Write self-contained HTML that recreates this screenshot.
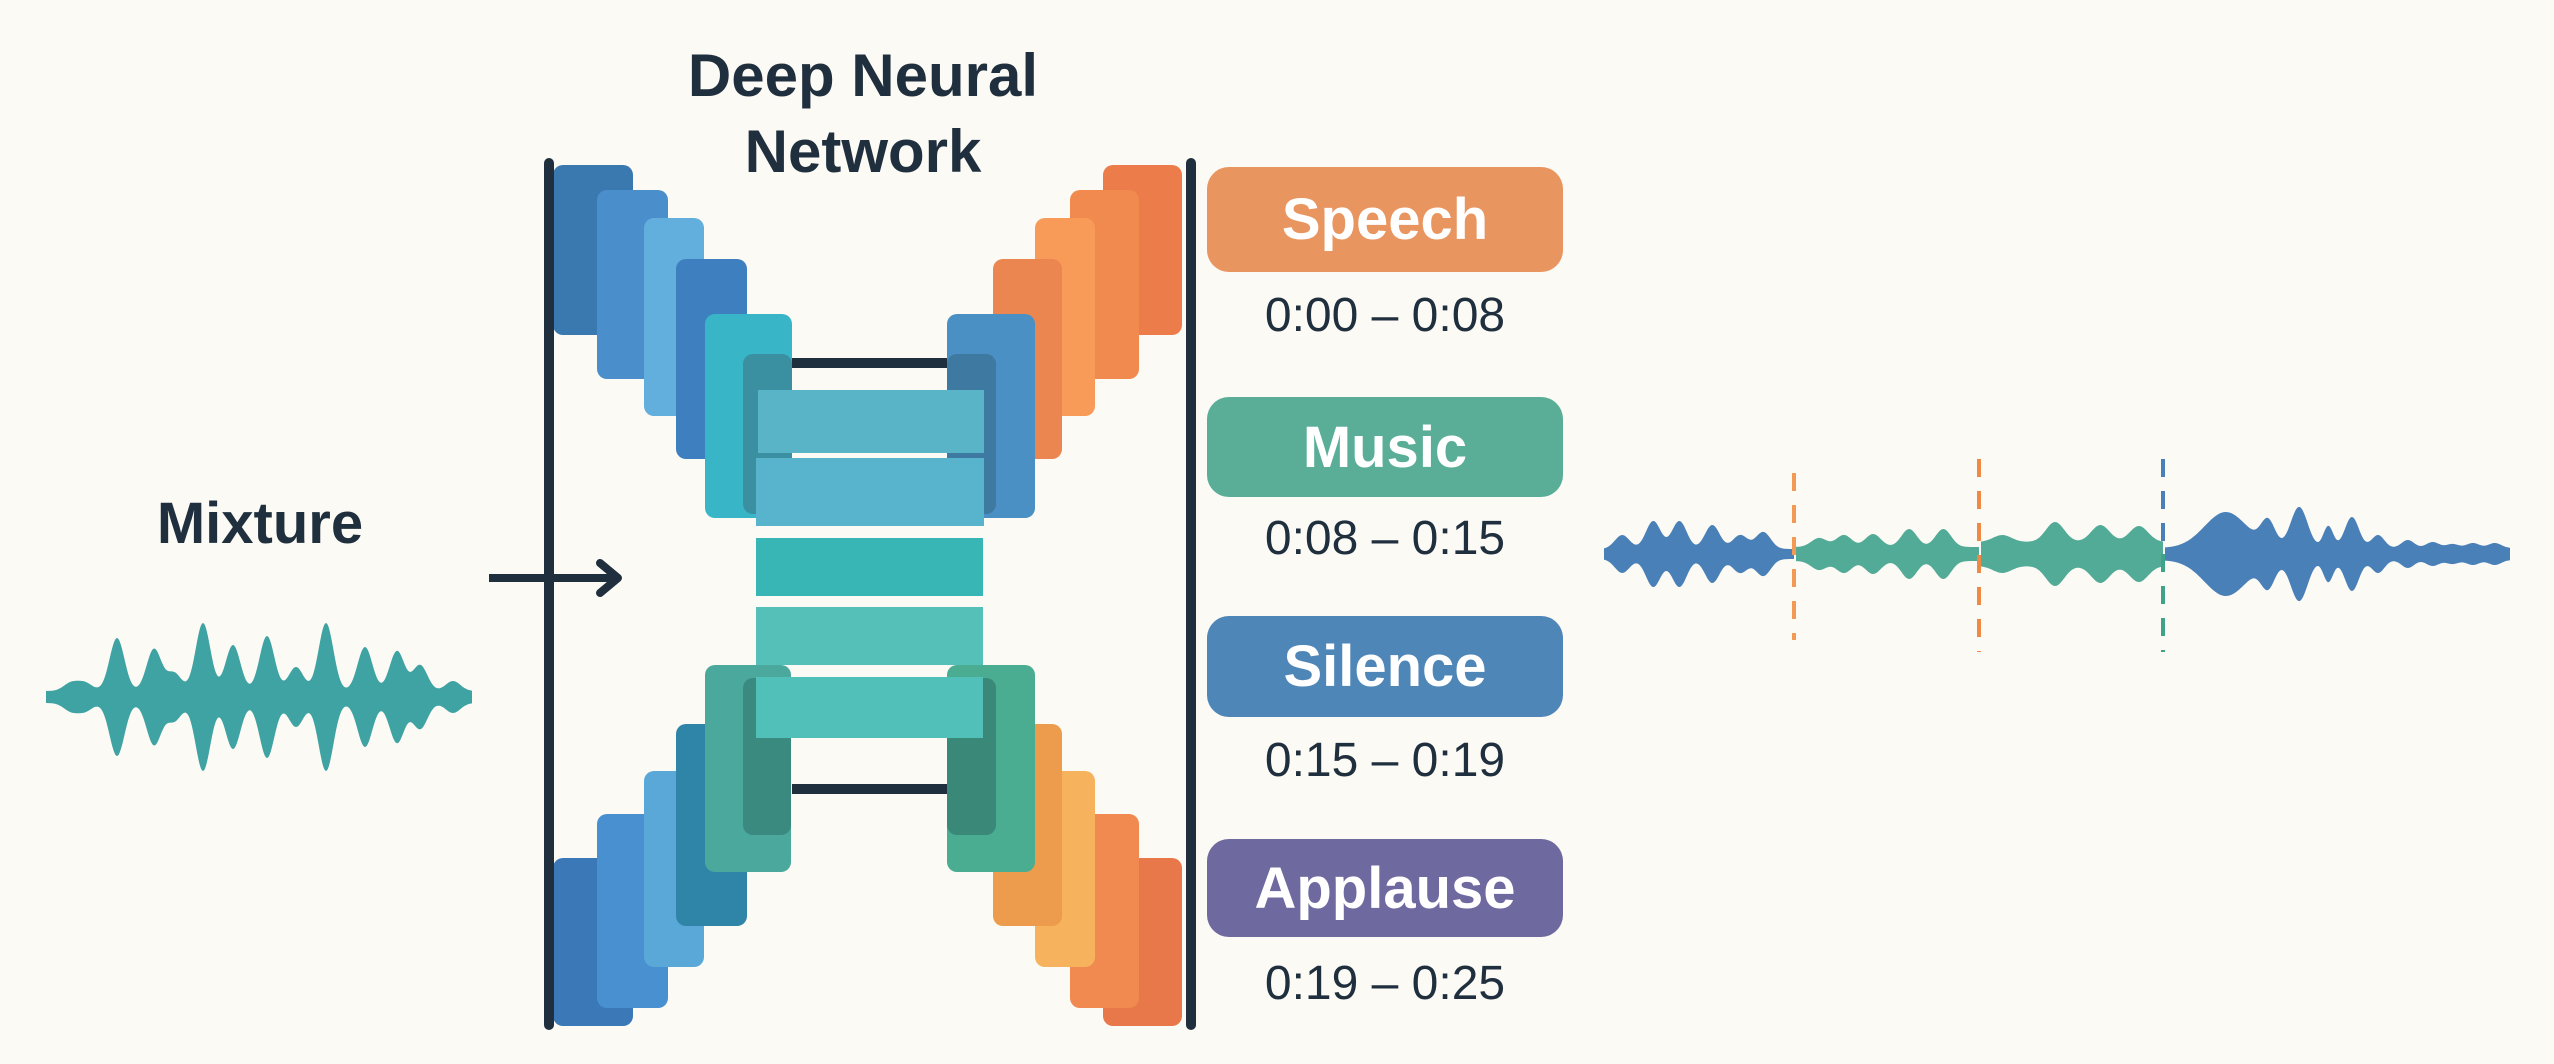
<!DOCTYPE html>
<html><head><meta charset="utf-8"><style>
html,body{margin:0;padding:0;background:#fcfaf5;}
body{width:2554px;height:1064px;position:relative;overflow:hidden;font-family:"Liberation Sans",sans-serif;}
.t{position:absolute;color:#1f2f3d;text-align:center;}
.b{position:absolute;border-radius:10px;}
.lab{position:absolute;left:1207px;width:356px;border-radius:22px;color:#fff;font-size:58px;font-weight:bold;text-align:center;display:flex;align-items:center;justify-content:center;}
.tm{position:absolute;left:1207px;width:356px;text-align:center;font-size:48px;color:#1f2f3d;}
</style></head><body>
<div class="t" style="left:600px;width:526px;top:38px;font-size:60px;line-height:76px;font-weight:bold;">Deep Neural<br>Network</div>
<div class="t" style="left:100px;width:320px;top:490px;font-size:58px;font-weight:bold;">Mixture</div>

<div class="b" style="left:553px;top:165px;width:80px;height:170px;background:#3a78b0"></div>
<div class="b" style="left:597px;top:190px;width:71px;height:189px;background:#4a8fcc"></div>
<div class="b" style="left:644px;top:218px;width:60px;height:198px;background:#62aedc"></div>
<div class="b" style="left:676px;top:259px;width:71px;height:200px;background:#3d7fbf"></div>
<div class="b" style="left:705px;top:314px;width:87px;height:204px;background:#38b6c8"></div>
<div class="b" style="left:743px;top:354px;width:49px;height:160px;background:#3a8fa0"></div>
<div class="b" style="left:1103px;top:165px;width:79px;height:170px;background:#ec7c4a"></div>
<div class="b" style="left:1070px;top:190px;width:69px;height:189px;background:#f08a4e"></div>
<div class="b" style="left:1035px;top:218px;width:60px;height:198px;background:#f89b58"></div>
<div class="b" style="left:993px;top:259px;width:69px;height:200px;background:#ec8650"></div>
<div class="b" style="left:947px;top:314px;width:88px;height:204px;background:#4a90c4"></div>
<div class="b" style="left:947px;top:354px;width:49px;height:160px;background:#3d79a0"></div>
<div style="position:absolute;left:792px;top:358px;width:155px;height:10px;background:#1f2f3d"></div>
<div class="b" style="left:553px;top:858px;width:80px;height:168px;background:#3a78b8"></div>
<div class="b" style="left:597px;top:814px;width:71px;height:194px;background:#4890d0"></div>
<div class="b" style="left:644px;top:771px;width:60px;height:196px;background:#5aa8d8"></div>
<div class="b" style="left:676px;top:724px;width:71px;height:202px;background:#2f85a8"></div>
<div class="b" style="left:705px;top:665px;width:86px;height:207px;background:#4aa89c"></div>
<div class="b" style="left:743px;top:678px;width:48px;height:157px;background:#3a8a80"></div>
<div class="b" style="left:1103px;top:858px;width:79px;height:168px;background:#e8784a"></div>
<div class="b" style="left:1070px;top:814px;width:69px;height:194px;background:#f08a50"></div>
<div class="b" style="left:1035px;top:771px;width:60px;height:196px;background:#f6b25c"></div>
<div class="b" style="left:993px;top:724px;width:69px;height:202px;background:#ec9c4c"></div>
<div class="b" style="left:947px;top:665px;width:88px;height:207px;background:#4aac90"></div>
<div class="b" style="left:947px;top:678px;width:49px;height:157px;background:#3a8878"></div>
<div style="position:absolute;left:792px;top:784px;width:155px;height:10px;background:#1f2f3d"></div>
<div style="position:absolute;left:758px;top:390px;width:226px;height:63px;background:#5ab4c8"></div>
<div style="position:absolute;left:756px;top:458px;width:228px;height:68px;background:#58b4cc"></div>
<div style="position:absolute;left:756px;top:538px;width:227px;height:58px;background:#38b5b5"></div>
<div style="position:absolute;left:756px;top:607px;width:227px;height:58px;background:#55c0b8"></div>
<div style="position:absolute;left:756px;top:677px;width:227px;height:61px;background:#50c0b8"></div>

<div style="position:absolute;left:544px;top:158px;width:10px;height:872px;background:#1f2f3d;border-radius:5px"></div>
<div style="position:absolute;left:1186px;top:158px;width:10px;height:872px;background:#1f2f3d;border-radius:5px"></div>

<svg style="position:absolute;left:0;top:0" width="2554" height="1064">
<line x1="489" y1="578" x2="615" y2="578" stroke="#1f2f3d" stroke-width="8"/>
<polyline points="600,563 618,578 600,593" fill="none" stroke="#1f2f3d" stroke-width="8" stroke-linecap="round" stroke-linejoin="round"/>
<path id="w1" fill="#3fa3a3"/>
<path id="w2" fill="#4a80b8"/>
<path id="w3" fill="#52ab96"/>
<path id="w4" fill="#52ab96"/>
<path id="w5" fill="#4a80b8"/>
<line x1="1794" y1="473" x2="1794" y2="640" stroke="#f29a55" stroke-width="4" stroke-dasharray="18,14"/>
<line x1="1979" y1="459" x2="1979" y2="652" stroke="#ef8a45" stroke-width="4" stroke-dasharray="18,14"/>
<line x1="2163" y1="459" x2="2163" y2="554" stroke="#4a80b8" stroke-width="4" stroke-dasharray="18,14"/>
<line x1="2163" y1="554" x2="2163" y2="652" stroke="#3fa38a" stroke-width="4" stroke-dasharray="18,14"/>
</svg>

<div class="lab" style="top:167px;height:105px;background:#e99560">Speech</div>
<div class="tm" style="top:288px">0:00 – 0:08</div>
<div class="lab" style="top:397px;height:100px;background:#5aae98">Music</div>
<div class="tm" style="top:511px">0:08 – 0:15</div>
<div class="lab" style="top:616px;height:101px;background:#4f86b8">Silence</div>
<div class="tm" style="top:733px">0:15 – 0:19</div>
<div class="lab" style="top:839px;height:98px;background:#6e6aa0">Applause</div>
<div class="tm" style="top:956px">0:19 – 0:25</div>

<script>
function wave(id,x0,x1,cy,base,peaks,sig){
  var top=[],bot=[];
  for(var x=x0;x<=x1;x+=1){
    var a=base;
    for(var i=0;i<peaks.length;i++){var p=peaks[i];var s=p[2]||sig;a+=p[1]*Math.exp(-Math.pow((x-p[0])/s,2));}
    top.push(x+","+(cy-a).toFixed(1));bot.unshift(x+","+(cy+a).toFixed(1));
  }
  document.getElementById(id).setAttribute("d","M"+top.join(" L")+" L"+bot.join(" L")+"Z");
}
wave("w1",46,472,697,6,[[71,8],[85,8],[117,53],[154,42],[174,18],[203,68],[233,46],[267,55],[296,24],[326,68],[365,44],[397,40],[420,26],[453,10]],10.5);
function X(z){return 1580+z*0.621;}
wave("w2",1604,1794,554,5,[[X(68),14],[X(118),28],[X(160),28],[X(213),24],[X(258),14],[X(295),17]],10.5);
wave("w3",1796,1979,554,7,[[X(385),9],[X(425),12],[X(472),13],[X(530),18],[X(585),18]],11);
wave("w4",1981,2163,554,12,[[X(680),7],[X(765),20],[X(838),17],[X(900),16]],13);
wave("w5",2165,2510,554,6,[[X(1040),36,30],[X(1108),25,10],[X(1158),41,12],[X(1205),22,7],[X(1243),31,10],[X(1285),13,9],[X(1333),8],[X(1373),6],[X(1405),4],[X(1438),5],[X(1473),5]],9);
</script>
</body></html>
